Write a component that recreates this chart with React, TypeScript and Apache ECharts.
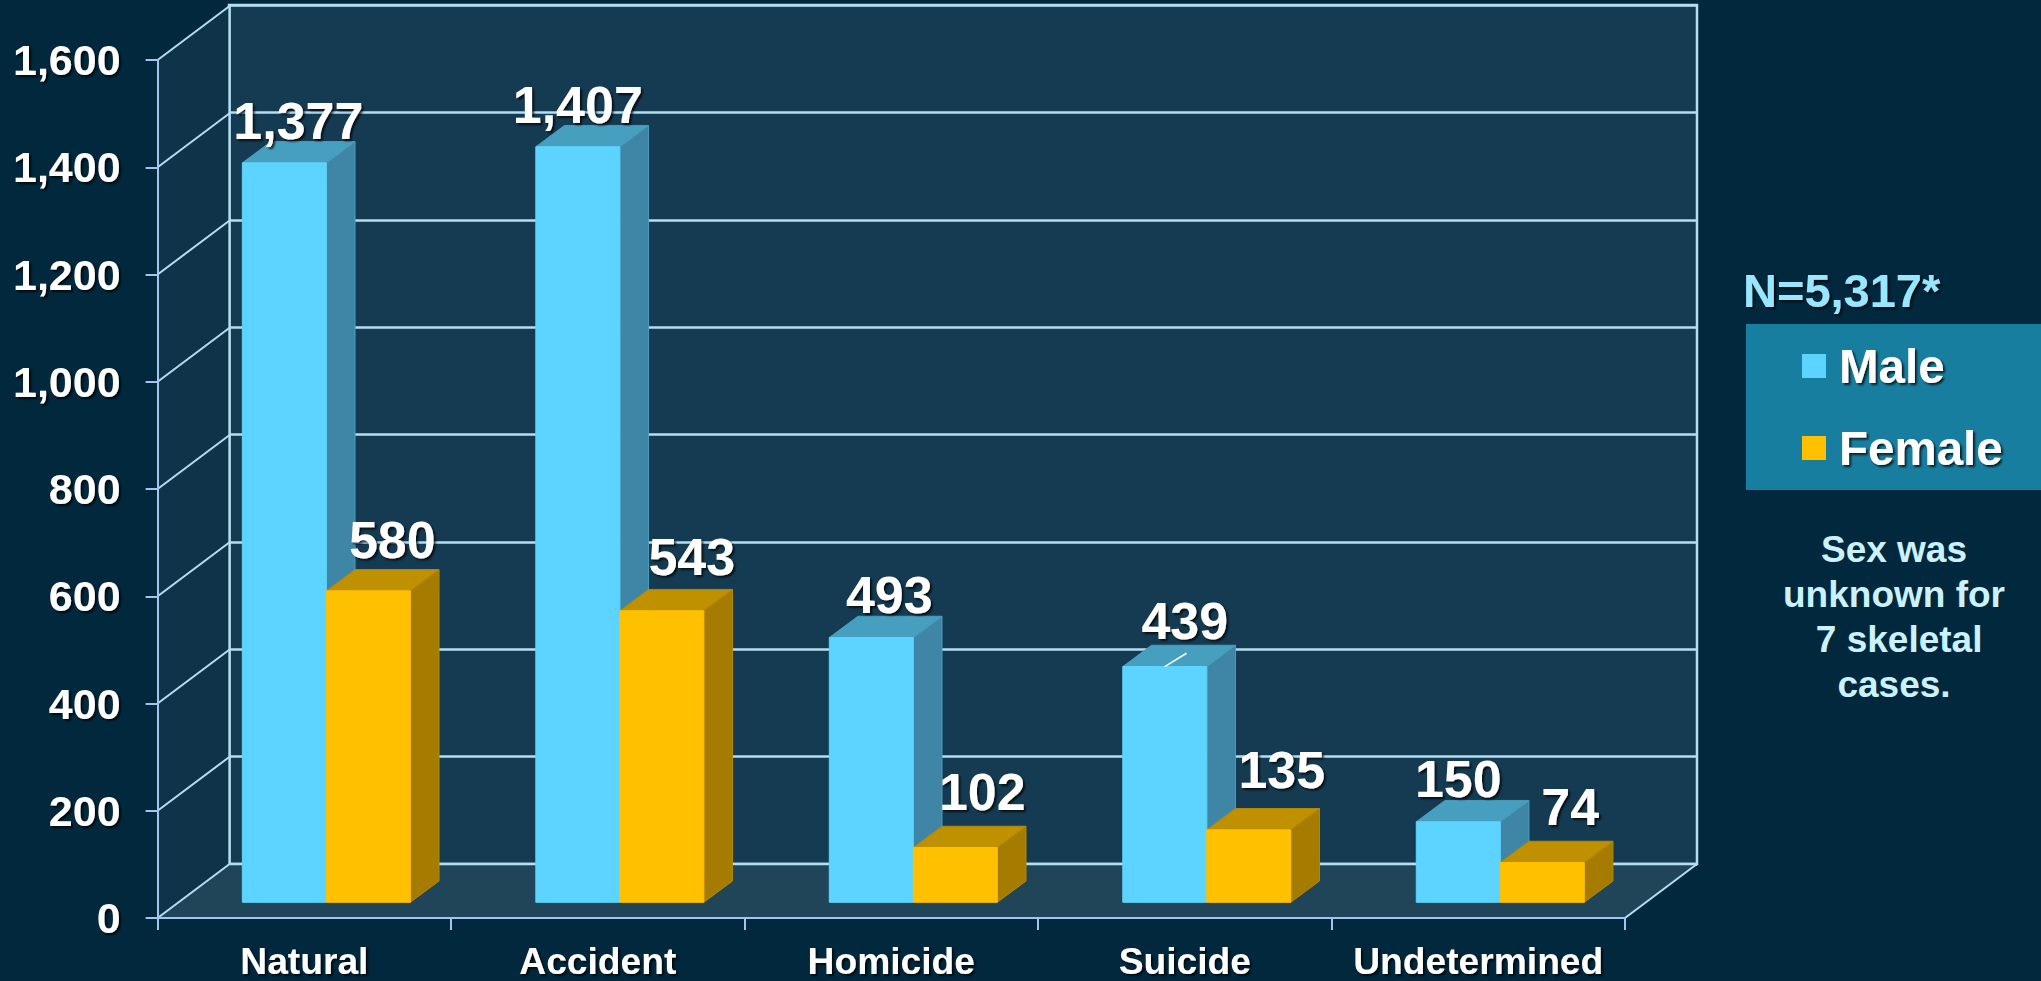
import React, { useEffect, useRef } from "react";
import * as echarts from "echarts";

const categories = ["Natural", "Accident", "Homicide", "Suicide", "Undetermined"];
const maleValues = [1377, 1407, 493, 439, 150];
const femaleValues = [580, 543, 102, 135, 74];
const yTicks = [0, 200, 400, 600, 800, 1000, 1200, 1400, 1600];
const totalLabel = "N=5,317*";
const noteLines = ["Sex was", "unknown for", " 7 skeletal", "cases."];

// Hand placement of the value labels, relative to the top of each bar: [dx, dy to baseline]
const maleLabelNudge = [[14, -24], [0, -24], [18, -25], [20, -28], [0, -25]];
const femaleLabelNudge = [[24, -33], [30, -36], [27, -38], [33, -42], [28, -38]];

const FONT = '"Liberation Sans", Arial, sans-serif';
const BG = "#01283d";
const WALL_BACK = "#153b52";
const WALL_SIDE = "#0f3349";
const FLOOR = "#214558";
const GRID_LINE = "#b4dff2";
const AXIS_LINE = "#a3c4ee";
const DEPTH_X = 72;
const DEPTH_Y = 54;
const BAR_SHIFT_X = 22;
const BAR_SHIFT_Y = 15.7;
const BAR_DX = 28.7;
const BAR_DY = 21.3;
const LABEL_SIZE = 52;
const SHADOW = { textShadowColor: "rgba(0,0,0,0.75)", textShadowBlur: 2, textShadowOffsetX: 2, textShadowOffsetY: 2 };

const fmt = (v: number) => v.toLocaleString("en-US");
const midY = (baseline: number, size: number) => baseline - 0.3465 * size;

function barSeries(
  name: string,
  values: number[],
  side: -1 | 0,
  colors: { front: string; top: string; side: string; edge: string },
  nudges: number[][],
  z: number,
  leader?: number
) {
  return {
    name,
    type: "custom",
    xAxisIndex: 0,
    yAxisIndex: 0,
    z,
    itemStyle: { color: colors.front },
    data: values.map((v, i) => [i, v]),
    renderItem: (params: any, api: any) => {
      const i = api.value(0);
      const v = api.value(1);
      const [cx, cy] = api.coord([i, v]);
      const [, y0] = api.coord([i, 0]);
      const band = api.size([1, 0])[0];
      const w = band * 0.2862;
      const x = cx + BAR_SHIFT_X + side * w;
      const base = y0 - BAR_SHIFT_Y;
      const top = base - (y0 - cy) * 1.0014;
      const nudge = nudges[i];
      const edge = { stroke: colors.edge, lineWidth: 1 };
      const children: any[] = [
        {
          type: "polygon",
          shape: { points: [[x + w, top], [x + w + BAR_DX, top - BAR_DY], [x + w + BAR_DX, base - BAR_DY], [x + w, base]] },
          style: { fill: colors.side, ...edge },
        },
        {
          type: "polygon",
          shape: { points: [[x, top], [x + BAR_DX, top - BAR_DY], [x + w + BAR_DX, top - BAR_DY], [x + w, top]] },
          style: { fill: colors.top, ...edge },
        },
        { type: "rect", shape: { x, y: top, width: w, height: base - top }, style: { fill: colors.front, stroke: colors.front, lineWidth: 1 } },
      ];
      if (leader === i) {
        children.push({
          type: "line",
          shape: { x1: x + w / 2, y1: top, x2: x + w / 2 + 21.7, y2: top - 13.3 },
          style: { stroke: "#ffffff", lineWidth: 1.5 },
        });
      }
      children.push({
        type: "text",
        z2: 50,
        style: {
          text: fmt(v),
          x: x + w / 2 + nudge[0],
          y: midY(top + nudge[1], LABEL_SIZE),
          align: "center",
          verticalAlign: "middle",
          fontFamily: FONT,
          fontWeight: "bold",
          fontSize: LABEL_SIZE,
          fill: "#ffffff",
          ...SHADOW,
        },
      });
      return { type: "group", children };
    },
  };
}

export default function App() {
  const ref = useRef<HTMLDivElement>(null);

  useEffect(() => {
    document.body.style.margin = "0";
    document.body.style.background = BG;
    const chart = echarts.init(ref.current!, undefined, { renderer: "svg" });
    chart.setOption({
      animation: false,
      backgroundColor: BG,
      grid: [
        { left: 157.6, right: 416, top: 60, bottom: 63 },
        {
          left: 229,
          right: 344,
          top: 5,
          bottom: 117,
          show: true,
          backgroundColor: WALL_BACK,
          borderColor: GRID_LINE,
          borderWidth: 2.5,
          z: 0,
        },
      ],
      xAxis: [
        {
          type: "category",
          gridIndex: 0,
          data: categories,
          z: 8,
          axisLine: { show: true, lineStyle: { color: AXIS_LINE, width: 2 } },
          axisTick: { show: true, length: 12, alignWithLabel: false, lineStyle: { color: AXIS_LINE, width: 2 } },
          axisLabel: {
            color: "#ffffff",
            fontFamily: FONT,
            fontWeight: "bold",
            fontSize: 37.2,
            margin: 24,
            interval: 0,
            ...SHADOW,
          },
        },
        { type: "category", gridIndex: 1, data: categories, show: false },
      ],
      yAxis: [
        {
          type: "value",
          gridIndex: 0,
          min: 0,
          max: 1600,
          interval: 200,
          z: 8,
          axisLine: { show: true, lineStyle: { color: AXIS_LINE, width: 2 } },
          axisTick: { show: true, length: 12, lineStyle: { color: AXIS_LINE, width: 2 } },
          splitLine: { show: false },
          axisLabel: {
            color: "#ffffff",
            fontFamily: FONT,
            fontWeight: "bold",
            fontSize: 43,
            margin: 37,
            formatter: (v: number) => fmt(v),
            ...SHADOW,
          },
        },
        {
          type: "value",
          gridIndex: 1,
          min: 0,
          max: 1600,
          interval: 200,
          axisLine: { show: false },
          axisTick: { show: false },
          axisLabel: { show: false },
          splitLine: { show: true, lineStyle: { color: GRID_LINE, width: 2.5 } },
        },
      ],
      legend: {
        orient: "vertical",
        left: 1746,
        top: 324,
        data: ["Male", "Female"],
        icon: "rect",
        itemWidth: 24,
        itemHeight: 24,
        itemGap: 34,
        selectedMode: false,
        backgroundColor: "#177e9f",
        borderRadius: 0,
        padding: [18, 60, 18, 56],
        textStyle: {
          color: "#ffffff",
          fontFamily: FONT,
          fontWeight: "bold",
          fontSize: 47.5,
          padding: [0, 0, 0, 8],
          ...SHADOW,
        },
      },
      series: [
        {
          name: "frame",
          type: "custom",
          xAxisIndex: 0,
          yAxisIndex: 0,
          z: 1,
          data: yTicks.map((t) => [0, t]),
          renderItem: (params: any, api: any) => {
            const t = api.value(1);
            const cs = params.coordSys;
            const left = cs.x;
            const right = cs.x + cs.width;
            const y = api.coord([0, t])[1];
            const yBottom = api.coord([0, 0])[1];
            const yTop = api.coord([0, 1600])[1];
            const children: any[] = [];
            if (t === 0) {
              children.push(
                {
                  type: "polygon",
                  shape: { points: [[left, yTop], [left + DEPTH_X, yTop - DEPTH_Y], [left + DEPTH_X, yBottom - DEPTH_Y], [left, yBottom]] },
                  style: { fill: WALL_SIDE },
                },
                {
                  type: "polygon",
                  shape: { points: [[left, yBottom], [right, yBottom], [right + DEPTH_X, yBottom - DEPTH_Y], [left + DEPTH_X, yBottom - DEPTH_Y]] },
                  style: { fill: FLOOR },
                },
                {
                  type: "line",
                  shape: { x1: right, y1: yBottom, x2: right + DEPTH_X, y2: yBottom - DEPTH_Y },
                  style: { stroke: GRID_LINE, lineWidth: 2 },
                },
                {
                  type: "line",
                  shape: { x1: left + DEPTH_X, y1: yTop - DEPTH_Y, x2: left + DEPTH_X, y2: yBottom - DEPTH_Y },
                  style: { stroke: GRID_LINE, lineWidth: 2.5 },
                },
                {
                  type: "line",
                  shape: { x1: left + DEPTH_X, y1: yBottom - DEPTH_Y, x2: right + DEPTH_X, y2: yBottom - DEPTH_Y },
                  style: { stroke: GRID_LINE, lineWidth: 2.5 },
                }
              );
            }
            children.push({
              type: "line",
              shape: { x1: left, y1: y, x2: left + DEPTH_X, y2: y - DEPTH_Y },
              style: { stroke: GRID_LINE, lineWidth: 2 },
            });
            return { type: "group", children };
          },
        },
        barSeries("Male", maleValues, -1, { front: "#5dd4ff", top: "#479fc0", side: "#3f86a6", edge: "#4a9cbc" }, maleLabelNudge, 3, 3),
        barSeries("Female", femaleValues, 0, { front: "#ffc000", top: "#bf9000", side: "#a67c00", edge: "#b58800" }, femaleLabelNudge, 4),
      ],
      graphic: [
        {
          type: "text",
          left: 1743,
          top: midY(306.7, 47) - 23.5,
          style: { text: totalLabel, fontFamily: FONT, fontWeight: "bold", fontSize: 47, fill: "#99e6ff", ...SHADOW },
        },
        {
          type: "text",
          x: 1894,
          y: midY(629.5, 37),
          style: {
            text: noteLines.join("\n"),
            align: "center",
            verticalAlign: "middle",
            lineHeight: 45,
            fontFamily: FONT,
            fontWeight: "bold",
            fontSize: 37,
            fill: "#ccf2ff",
          },
        },
      ],
    });
    return () => chart.dispose();
  }, []);

  return <div ref={ref} style={{ width: 2041, height: 981 }} />;
}
